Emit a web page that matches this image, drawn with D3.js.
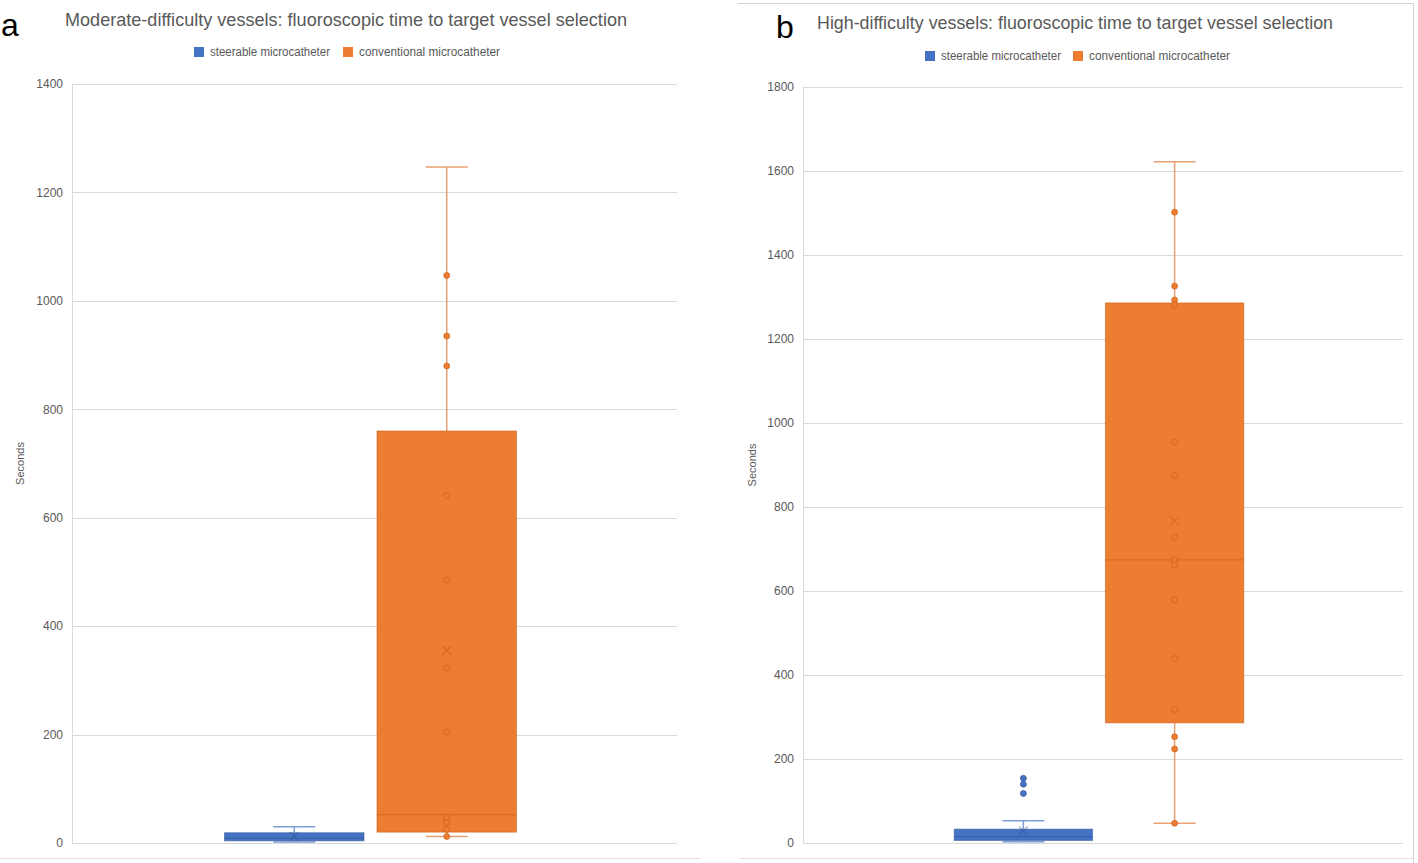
<!DOCTYPE html>
<html>
<head>
<meta charset="utf-8">
<script src="https://cdn.jsdelivr.net/npm/d3@7"></script>
<style>
  body { margin: 0; background: #fff; }
  text { font-family: "Liberation Sans Narrow", "Liberation Sans", sans-serif; }
</style>
</head>
<body>
<div id="chart"></div>
<script>
// series
const seriesNames = ["steerable microcatheter", "conventional  microcatheter"];
const seriesColors = ["#4472C4", "#ED7D31"];
const seriesDark = ["#2F528F", "#C55A11"];
const seriesLight = ["#7F9DD6", "#E9A174"];

// box stats per series: [min, q1, median, q3, max, mean]
const moderateStats = [
    [2, 4, 9, 19, 30, 12],
    [12, 20, 52, 760, 1247, 355]
];
const moderatePoints = [
    [],
    [1047, 935, 880, 641, 485, 323, 205, 47, 38, 25, 12]
];
const moderateTicks = [0, 200, 400, 600, 800, 1000, 1200, 1400];

const highStats = [
    [3, 6, 15, 33, 53, 29],
    [47, 286, 674, 1286, 1622, 767]
];
const highPoints = [
    [154, 140, 118],
    [1502, 1326, 1293, 1281, 955, 875, 728, 674, 662, 579, 439, 318, 253, 224, 47]
];
const highTicks = [0, 200, 400, 600, 800, 1000, 1200, 1400, 1600, 1800];

const W = 1418, H = 863;

const svg = d3.select("#chart").append("svg")
    .attr("width", W)
    .attr("height", H);

// screenshot frame bits of panel b
svg.append("line").attr("x1", 738).attr("x2", 1413).attr("y1", 3.5).attr("y2", 3.5)
    .attr("stroke", "#d4d4d4");
svg.append("line").attr("x1", 1413.5).attr("x2", 1413.5).attr("y1", 3).attr("y2", H)
    .attr("stroke", "#d4d4d4");
svg.append("line").attr("x1", 0).attr("x2", 700).attr("y1", 858.5).attr("y2", 858.5)
    .attr("stroke", "#e0e0e0");
svg.append("line").attr("x1", 740).attr("x2", 1413).attr("y1", 858.5).attr("y2", 858.5)
    .attr("stroke", "#e0e0e0");

function panel(opt) {
    const g = svg.append("g");

    const y = d3.scaleLinear()
        .domain([0, opt.ticks[opt.ticks.length - 1]])
        .range([opt.bottom, opt.top]);

    // boxes sit a little left of the plot centre
    const x = d3.scaleBand()
        .domain(d3.range(seriesNames.length))
        .range([opt.left, opt.right - 8])
        .paddingInner(0.085)
        .paddingOuter(1.0);

    // panel letter
    g.append("text")
        .attr("x", opt.letterX)
        .attr("y", opt.letterY)
        .style("font-family", "'Liberation Sans', Arial, sans-serif")
        .style("font-size", "32px")
        .attr("fill", "#000")
        .text(opt.letter);

    // title
    g.append("text")
        .attr("x", opt.titleX)
        .attr("y", opt.titleY)
        .attr("text-anchor", "middle")
        .attr("textLength", opt.titleLen)
        .attr("lengthAdjust", "spacingAndGlyphs")
        .style("font-size", "19px")
        .attr("fill", "#595959")
        .text(opt.title);

    // legend
    const leg = g.append("g");
    seriesNames.forEach((name, i) => {
        leg.append("rect")
            .attr("x", opt.legendX[i])
            .attr("y", opt.legendY - 5)
            .attr("width", 10)
            .attr("height", 10)
            .attr("fill", seriesColors[i]);
        leg.append("text")
            .attr("x", opt.legendX[i] + 16)
            .attr("y", opt.legendY + 4)
            .attr("textLength", opt.legendLen[i])
            .attr("lengthAdjust", "spacingAndGlyphs")
            .style("font-size", "12px")
            .attr("fill", "#595959")
            .text(name);
    });

    // grid
    g.append("g")
        .selectAll("line")
        .data(opt.ticks)
        .join("line")
        .attr("x1", opt.left)
        .attr("x2", opt.right)
        .attr("y1", d => Math.round(y(d)) + 0.5)
        .attr("y2", d => Math.round(y(d)) + 0.5)
        .attr("stroke", "#d9d9d9")
        .attr("stroke-width", 1);

    g.append("line")
        .attr("x1", opt.left + 0.5).attr("x2", opt.left + 0.5)
        .attr("y1", y(opt.ticks[opt.ticks.length - 1]))
        .attr("y2", y(0))
        .attr("stroke", "#d9d9d9");

    // y axis labels
    const axis = g.append("g")
        .attr("transform", `translate(${opt.left - 9}, 0)`)
        .call(d3.axisLeft(y).tickValues(opt.ticks).tickFormat(d3.format("d")).tickSize(0).tickPadding(0));
    axis.select(".domain").remove();
    axis.selectAll(".tick text")
        .style("font-family", "'Liberation Sans', sans-serif")
        .style("font-size", "12px")
        .attr("fill", "#595959");

    g.append("text")
        .attr("transform", `translate(${opt.yTitleX}, ${(opt.top + opt.bottom) / 2}) rotate(-90)`)
        .attr("text-anchor", "middle")
        .style("font-size", "11px")
        .attr("fill", "#595959")
        .text("Seconds");

    // boxes
    opt.stats.forEach((s, i) => {
        const [mn, q1, med, q3, mx, mean] = s;
        const bx = x(i), bw = x.bandwidth(), cx = bx + bw / 2;
        const capW = 42;
        const sg = g.append("g");

        // whiskers
        sg.append("line")
            .attr("x1", cx).attr("x2", cx)
            .attr("y1", y(mx)).attr("y2", y(q3))
            .attr("stroke", seriesLight[i]).attr("stroke-width", 1.5);
        sg.append("line")
            .attr("x1", cx).attr("x2", cx)
            .attr("y1", y(q1)).attr("y2", y(mn))
            .attr("stroke", seriesLight[i]).attr("stroke-width", 1.5);
        [mx, mn].forEach(v => {
            sg.append("line")
                .attr("x1", cx - capW / 2).attr("x2", cx + capW / 2)
                .attr("y1", y(v)).attr("y2", y(v))
                .attr("stroke", seriesLight[i]).attr("stroke-width", 1.5);
        });

        // box
        sg.append("rect")
            .attr("x", bx)
            .attr("y", y(q3))
            .attr("width", bw)
            .attr("height", y(q1) - y(q3))
            .attr("fill", seriesColors[i])
            .attr("stroke", seriesDark[i])
            .attr("stroke-opacity", 0.5)
            .attr("stroke-width", 1);

        sg.append("line")
            .attr("x1", bx).attr("x2", bx + bw)
            .attr("y1", y(med)).attr("y2", y(med))
            .attr("stroke", seriesDark[i]).attr("stroke-opacity", 0.6)
            .attr("stroke-width", 1);

        // points
        sg.selectAll("circle")
            .data(opt.points[i])
            .join("circle")
            .attr("cx", cx)
            .attr("cy", d => y(d))
            .attr("r", 3)
            .attr("fill", seriesColors[i])
            .attr("stroke", seriesDark[i])
            .attr("stroke-opacity", 0.6)
            .attr("stroke-width", 1);

        // mean marker
        const m = 4.5;
        sg.append("path")
            .attr("d", `M${cx - m},${y(mean) - m}L${cx + m},${y(mean) + m}M${cx - m},${y(mean) + m}L${cx + m},${y(mean) - m}`)
            .attr("stroke", seriesDark[i])
            .attr("stroke-opacity", 0.5)
            .attr("stroke-width", 1.2)
            .attr("fill", "none");
    });
}

panel({
    letter: "a", letterX: 1, letterY: 36,
    title: "Moderate-difficulty vessels: fluoroscopic time to target vessel selection",
    titleX: 346, titleY: 26, titleLen: 562,
    legendX: [194, 343], legendY: 52, legendLen: [120, 141],
    left: 72, right: 677, top: 84, bottom: 843,
    yTitleX: 24,
    ticks: moderateTicks,
    stats: moderateStats,
    points: moderatePoints
});

panel({
    letter: "b", letterX: 776, letterY: 38,
    title: "High-difficulty vessels: fluoroscopic time to target vessel selection",
    titleX: 1075, titleY: 29, titleLen: 516,
    legendX: [925, 1073], legendY: 56, legendLen: [120, 141],
    left: 803, right: 1403, top: 87, bottom: 843,
    yTitleX: 756,
    ticks: highTicks,
    stats: highStats,
    points: highPoints
});
</script>
</body>
</html>
